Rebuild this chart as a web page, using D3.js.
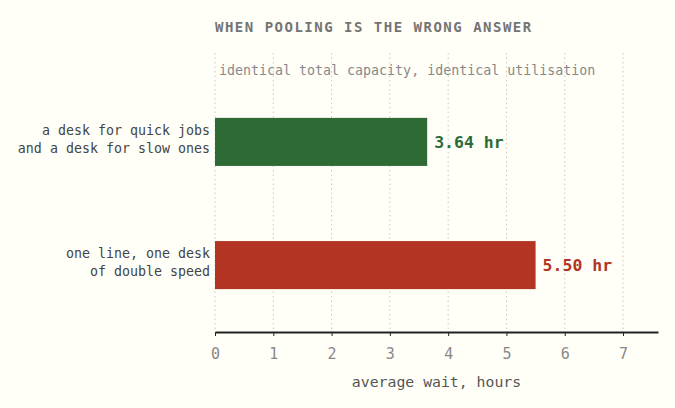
<!DOCTYPE html>
<html>
<head>
<meta charset="utf-8">
<script src="https://cdn.jsdelivr.net/npm/d3@7"></script>
<style>
  body { margin: 0; background: #fffff8; }
  text { font-family: "DejaVu Sans Mono", "Liberation Mono", monospace; }
</style>
</head>
<body>
<div id="chart"></div>
<script>
// data
const categories = [
    ["a desk for quick jobs", "and a desk for slow ones"],
    ["one line, one desk", "of double speed"]
];
const waits = [3.64, 5.50];
const barColors = ["#2e6b34", "#b33422"];
const xTicks = [0, 1, 2, 3, 4, 5, 6, 7];

const width = 675, height = 408;
const margin = {top: 53, right: 17, bottom: 77, left: 215};

const svg = d3.select("#chart").append("svg")
    .attr("width", width)
    .attr("height", height)
    .style("background", "#fffff8");

const x = d3.scaleLinear()
    .domain([0, 7.6])
    .range([margin.left, width - margin.right]);

const y = d3.scaleBand()
    .domain(d3.range(categories.length))
    .range([76, height - margin.bottom])
    .paddingInner(0.61)
    .paddingOuter(0.34);

// gridlines
svg.append("g")
    .selectAll("line")
    .data(xTicks)
    .enter().append("line")
    .attr("x1", d => x(d)).attr("x2", d => x(d))
    .attr("y1", margin.top).attr("y2", height - margin.bottom)
    .attr("stroke", "#c8c8c0")
    .attr("stroke-width", 1)
    .attr("stroke-dasharray", "1.5,3");

// title + subtitle
svg.append("text")
    .attr("x", margin.left).attr("y", 32)
    .attr("font-size", 14).attr("font-weight", "bold")
    .attr("letter-spacing", 1.5)
    .attr("fill", "#747474")
    .text("WHEN POOLING IS THE WRONG ANSWER");

svg.append("text")
    .attr("x", margin.left + 4).attr("y", 75)
    .attr("font-size", 13.3)
    .attr("fill", "#888")
    .text("identical total capacity, identical utilisation");

// bars
svg.append("g")
    .selectAll("rect")
    .data(waits)
    .enter().append("rect")
    .attr("x", x(0))
    .attr("y", (d, i) => y(i))
    .attr("width", d => x(d) - x(0))
    .attr("height", y.bandwidth())
    .attr("fill", (d, i) => barColors[i]);

// value labels
svg.append("g")
    .selectAll("text")
    .data(waits)
    .enter().append("text")
    .attr("x", d => x(d) + 7)
    .attr("y", (d, i) => y(i) + y.bandwidth() / 2)
    .attr("dy", "0.35em")
    .attr("font-size", 16.5).attr("font-weight", "bold")
    .attr("fill", (d, i) => barColors[i])
    .text(d => d.toFixed(2) + " hr");

// category labels
const cat = svg.append("g")
    .selectAll("text")
    .data(categories)
    .enter().append("text")
    .attr("text-anchor", "end")
    .attr("font-size", 13.3)
    .attr("fill", "#444");
cat.selectAll("tspan")
    .data((d, i) => d.map(line => ({line, i})))
    .enter().append("tspan")
    .attr("x", margin.left - 5)
    .attr("y", (d, j) => y(d.i) + y.bandwidth() / 2 - 7 + j * 18)
    .text(d => d.line);

// x axis
const axis = svg.append("g")
    .attr("transform", `translate(0,${height - margin.bottom + 1})`)
    .call(d3.axisBottom(x).tickValues(xTicks).tickSize(4).tickPadding(12).tickSizeOuter(0));
axis.attr("font-size", 15).attr("font-family", "DejaVu Sans Mono, monospace");
axis.select(".domain").attr("stroke", "#222").attr("stroke-width", 2);
axis.selectAll(".tick line").attr("stroke", "#222");
axis.selectAll(".tick text")
    .attr("fill", "#888");

svg.append("text")
    .attr("x", (x(0) + x(7.6)) / 2).attr("y", 387)
    .attr("text-anchor", "middle")
    .attr("font-size", 14.8)
    .attr("fill", "#555")
    .text("average wait, hours");
</script>
</body>
</html>
